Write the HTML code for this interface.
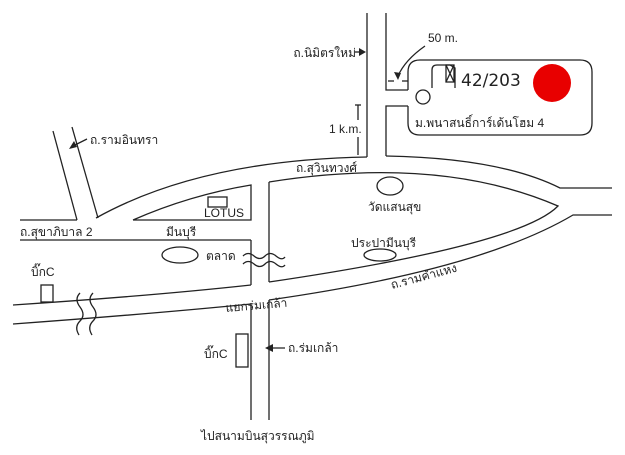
<!DOCTYPE html>
<html><head><meta charset="utf-8"><style>
html,body{margin:0;padding:0;background:#fff;}
svg{display:block;}
text{font-family:"Liberation Sans","Noto Sans CJK SC",sans-serif;font-size:12px;fill:#222;}
</style></head><body>
<svg width="625" height="455" viewBox="0 0 625 455" xmlns="http://www.w3.org/2000/svg">
<g fill="none" stroke="#222" stroke-width="1.3">
<line x1="367" y1="13" x2="367" y2="157"/>
<polyline points="386,13 386,90 408,90"/>
<polyline points="408,106 386,106 386,156"/>
<path d="M408,90 L408,72 Q408,60 420,60 L580,60 Q592,60 592,72 L592,123 Q592,135 580,135 L420,135 Q408,135 408,123 L408,106"/>
<path d="M96,218 Q200,160 367,157"/>
<path d="M386,156 Q500,158 560,188 L612,188"/>
<path d="M133,220 Q190,195 251,185 L251,220 L133,220"/>
<path d="M269,182 Q440,155 558,206 Q520,245 269,282"/>
<line x1="53" y1="131" x2="77" y2="220"/>
<line x1="72" y1="127" x2="98" y2="218"/>
<polyline points="20,220 77,220"/>
<line x1="20" y1="240" x2="251" y2="240"/>
<line x1="251" y1="240" x2="251" y2="285"/>
<line x1="269" y1="182" x2="269" y2="282"/>
<path d="M13,305 Q150,296 251,285"/>
<path d="M13,324 Q150,314 251,304"/>
<path d="M269,300 Q480,270 573,215 L612,215"/>
<line x1="251" y1="304" x2="251" y2="420"/>
<line x1="269" y1="300" x2="269" y2="420"/>
<path d="M243,256 q5,-5 11,0 t11,0 t11,0 t9,1"/>
<path d="M243,264 q5,-5 11,0 t11,0 t11,0 t9,1"/>
<path d="M80,293 q-6,6 0,14 t0,14 t-1,14"/>
<path d="M93,293 q-6,6 0,14 t0,14 t-1,14"/>
<ellipse cx="180" cy="255" rx="18" ry="8"/>
<ellipse cx="390" cy="186" rx="13" ry="9"/>
<ellipse cx="380" cy="255" rx="16" ry="6"/>
<rect x="208" y="197" width="19" height="10"/>
<rect x="41" y="285" width="12" height="17"/>
<rect x="236" y="334" width="12" height="33"/>
<path d="M432,88 L432,70 Q432,65 437,65 L450,65 L455,68 L455,88"/>
<rect x="446" y="65" width="8" height="17"/>
<line x1="446" y1="65" x2="454" y2="82"/>
<line x1="454" y1="65" x2="446" y2="82"/>
<circle cx="423" cy="97" r="7"/>
<line x1="355" y1="105" x2="361" y2="105"/>
<line x1="358" y1="105" x2="358" y2="120"/>
<line x1="358" y1="137" x2="358" y2="155"/>
<path d="M425,46 Q405,60 398,76"/>
<line x1="388" y1="81" x2="394" y2="81"/>
<line x1="402" y1="81" x2="408" y2="81"/>
<line x1="362" y1="52" x2="355" y2="52"/>
<path d="M87,139 L73,146"/>
<line x1="268" y1="348" x2="285" y2="348"/>
</g>
<g fill="#222">
<path d="M366,52 L359,48 L359,56 Z"/>
<path d="M398,80 L394,72 L401,73 Z"/>
<path d="M69,149 L74,141 L77,147 Z"/>
<path d="M265,348 L273,344 L273,352 Z"/>
</g>
<circle cx="552" cy="83" r="19" fill="#e80000"/>
<text x="461" y="86" style="font-size:17px;font-family:'DejaVu Sans',sans-serif">42/203</text>
<text x="415" y="127">ม.พนาสนธิ์การ์เด้นโฮม 4</text>
<text x="428" y="42">50 m.</text>
<text x="356" y="57" text-anchor="end">ถ.นิมิตรใหม่</text>
<text x="329" y="133">1 k.m.</text>
<text x="296" y="172">ถ.สุวินทวงศ์</text>
<text x="90" y="144">ถ.รามอินทรา</text>
<text x="20" y="236">ถ.สุขาภิบาล 2</text>
<text x="166" y="236">มีนบุรี</text>
<text x="204" y="217">LOTUS</text>
<text x="206" y="260">ตลาด</text>
<text x="31" y="276">บิ๊กC</text>
<text x="368" y="211">วัดแสนสุข</text>
<text x="351" y="247">ประปามีนบุรี</text>
<text x="392" y="289" transform="rotate(-15 392 289)">ถ.รามคำแหง</text>
<text x="226" y="312" transform="rotate(-5 226 312)">แยกร่มเกล้า</text>
<text x="204" y="358">บิ๊กC</text>
<text x="288" y="352">ถ.ร่มเกล้า</text>
<text x="201" y="440">ไปสนามบินสุวรรณภูมิ</text>
</svg>
</body></html>
